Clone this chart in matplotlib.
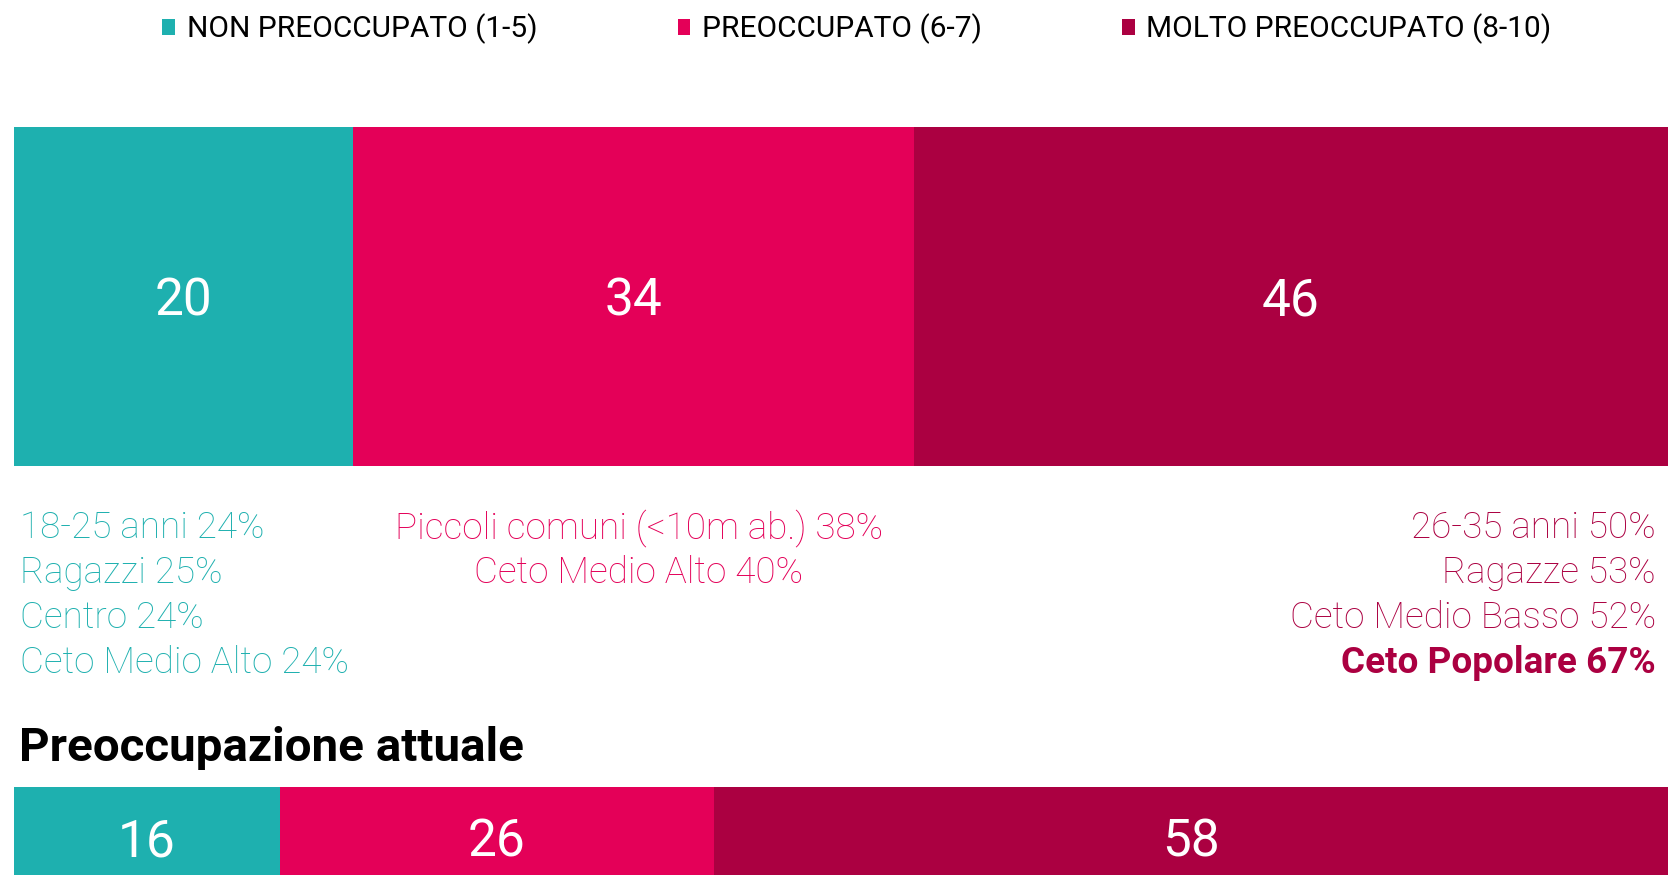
import matplotlib
matplotlib.use('Agg')
import matplotlib.pyplot as plt
from matplotlib.patches import Patch

W, H = 1668, 875
plt.rcParams['font.family'] = ['Roboto', 'DejaVu Sans']

COLORS = {'non': '#1EB0AF', 'preo': '#E40058', 'molto': '#AB0041'}

categorie = ['NON PREOCCUPATO (1-5)', 'PREOCCUPATO (6-7)', 'MOLTO PREOCCUPATO (8-10)']
valori_top = [20.5, 33.9, 45.6]
valori_attuale = [16.1, 26.2, 57.7]

note_non = ['18-25 anni 24%', 'Ragazzi 25%', 'Centro 24%', 'Ceto Medio Alto 24%']
note_preo = ['Piccoli comuni (<10m ab.) 38%', 'Ceto Medio Alto 40%']
note_molto = ['26-35 anni 50%', 'Ragazze 53%', 'Ceto Medio Basso 52%', 'Ceto Popolare 67%']
titolo_attuale = 'Preoccupazione attuale'


def fx(x):
    return x / W


def fy(y):
    return 1 - y / H


fig = plt.figure(figsize=(W / 100, H / 100), dpi=100)
colors = [COLORS['non'], COLORS['preo'], COLORS['molto']]


def stacked(ax, vals):
    left = 0
    for v, c in zip(vals, colors):
        ax.barh(0, v, left=left, height=1, color=c, edgecolor='none')
        ax.text(left + v / 2, 0, f'{round(v)}', ha='center', va='center_baseline',
                color='white', fontsize=37, fontweight='normal')
        left += v
    ax.set_xlim(0, 100)
    ax.set_ylim(-0.5, 0.5)
    ax.axis('off')


# barra principale
ax1 = fig.add_axes([fx(14), fy(466), fx(1654), 339 / H])
stacked(ax1, valori_top)

# barra preoccupazione attuale (tagliata in basso)
ax2 = fig.add_axes([fx(14), fy(887), fx(1654), 100 / H])
stacked(ax2, valori_attuale)

# legenda
handles = [Patch(facecolor=c, edgecolor='none') for c in colors]
fig.legend(handles, categorie, loc='center', bbox_to_anchor=(fx(857), fy(29)),
           ncol=3, frameon=False, fontsize=21.5, handlelength=0.43, handleheight=0.43,
           handletextpad=0.38, columnspacing=4.7, borderpad=0, borderaxespad=0)

# note sotto la barra
rows = [528, 573, 618, 663]
for y, t in zip(rows, note_non):
    fig.text(fx(20), fy(y), t, ha='left', va='center', color=COLORS['non'],
             fontsize=26.6, fontweight='light')
for y, t in zip(rows, note_preo):
    fig.text(fx(639), fy(y), t, ha='center', va='center', color=COLORS['preo'],
             fontsize=26.6, fontweight='light')
for i, (y, t) in enumerate(zip(rows, note_molto)):
    fig.text(fx(1656), fy(y), t, ha='right', va='center', color=COLORS['molto'],
             fontsize=26.6, fontweight='bold' if i == 3 else 'light')

fig.text(fx(19), fy(748), titolo_attuale, ha='left', va='center', color='black',
         fontsize=34.2, fontweight='bold')

fig.savefig('out.png', dpi=100)
